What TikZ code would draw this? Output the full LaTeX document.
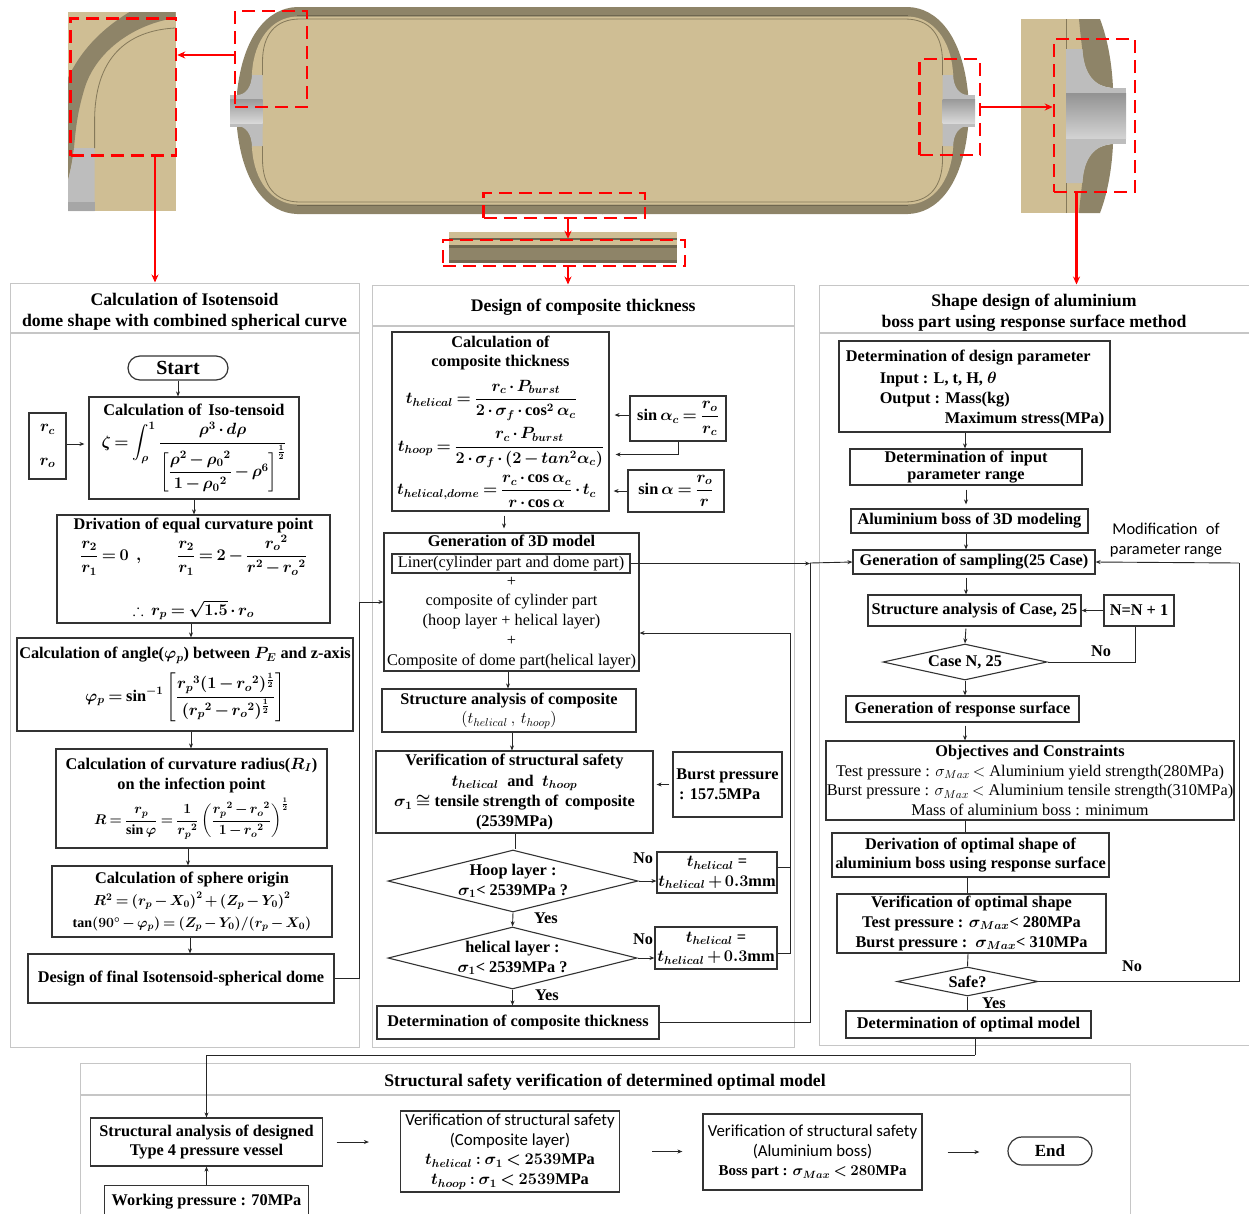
\documentclass[tikz,border=0pt]{standalone}
\usepackage{fix-cm}
\usepackage{amsmath,amssymb}
\usepackage{fontspec}
\setmainfont{Liberation Serif}
\newfontfamily\lblsans{Carlito}
\usetikzlibrary{arrows.meta,positioning,shapes.geometric}
\definecolor{cbrown}{HTML}{8E8468}
\definecolor{cdark}{HTML}{6F6750}
\definecolor{ctan}{HTML}{CFBE94}
\definecolor{cline}{HTML}{85795A}
\definecolor{cgray}{HTML}{BDBDBD}
\newcommand{\reg}[1]{{\mdseries\unboldmath #1}}
\thickmuskip=3.5mu
\medmuskip=2.5mu

\begin{document}
\begin{tikzpicture}[x=1pt,y=-1pt,>={Stealth[length=5pt,width=4pt]},
  font=\fontsize{16.3}{19.7}\selectfont\bfseries\boldmath,
  ph/.style={draw=gray!45,line width=1pt,fill=white,inner sep=0pt,align=center,font=\fontsize{17.7}{21}\selectfont\bfseries,execute at begin node=\rule{0pt}{16pt}},
  pn/.style={draw=gray!45,line width=1pt,fill=white,inner sep=0pt},
  bx/.style={draw=black!80,line width=1.2pt,fill=white,inner sep=0pt,align=center},
  dm/.style={diamond,draw=black!80,line width=1.1pt,fill=white,inner sep=0pt},
  tx/.style={inner sep=0pt,align=center},
  fl/.style={->,draw=black!85,line width=.9pt},
  ln/.style={draw=black!85,line width=.9pt},
  zb/.style={draw=red,line width=2.5pt,dash pattern=on 13pt off 7pt,inner sep=0pt},
  rd/.style={-{Stealth[length=8pt,width=7pt]},draw=red,line width=2.2pt}]
\path[use as bounding box,clip] (0,0) rectangle (1249,1213);

% vessel
\foreach \sx/\dx/\sy/\dy in {1/0/1/0,-1/1205/1/0,1/0/-1/221,-1/1205/-1/221}{
\begin{scope}[shift={(\dx,\dy)},xscale=\sx,yscale=\sy]
\fill[cbrown] (603,7) -- (297,7) .. controls (268,8) and (243,35) .. (237,93) -- (237,111) -- (603,111) -- cycle;
\fill[ctan] (603,16.5) -- (297,16.5) .. controls (272,17) and (254,40) .. (252,73) -- (252,111) -- (603,111) -- cycle;
\draw[cdark,line width=.8pt] (603,15.5) -- (297,15.5);
\draw[cline,line width=.8pt] (603,19) -- (300,19) .. controls (275,19) and (262.5,35) .. (262.5,62) -- (262.5,75);
\fill[cgray] (252,73) .. controls (252,88) and (245,95) .. (237,95) -- (237,111) -- (262.5,111) -- (262.5,75) -- (252,75) -- cycle;
\end{scope}}
\foreach \hx in {230,942.5}{
\fill[cgray] (\hx,95) rectangle (\hx+32.5,127);
\shade[top color=gray!80,bottom color=gray!30] (\hx,99) rectangle (\hx+32.5,123);
}

% left detail
\fill[ctan] (68,12) rectangle (175.5,211);
\fill[cbrown] (129.5,12) -- (175.5,12) -- (175.5,18) .. controls (135,24) and (97,50) .. (85,87) .. controls (78,110) and (76,125) .. (74,148) .. controls (72,165) and (70,172) .. (68,180) -- (68,78) .. controls (80,52) and (100,30) .. (129.5,12);
\fill[cgray] (74,148) -- (94.6,148) -- (94.6,211) -- (68,211) -- (68,180) .. controls (70,172) and (72,165) .. (74,148);
\fill[gray!70] (68,202) rectangle (94.6,211);
\draw[cline,line width=.8pt] (175.5,28) .. controls (135,30) and (95,50) .. (94.6,120) -- (94.6,148);

% right detail
\fill[ctan] (1021,19) rectangle (1100,213);
\foreach \sy/\dy in {1/0,-1/232}{
\begin{scope}[shift={(0,\dy)},yscale=\sy]
\fill[cbrown] (1079,19) -- (1100,19) .. controls (1108,40) and (1112,65) .. (1113,88) .. controls (1095,87) and (1084,75) .. (1082.4,50) .. controls (1081,40) and (1080,30) .. (1079,19);
\fill[cgray] (1066,49) -- (1082.4,49) .. controls (1084,75) and (1095,87) .. (1113,88) -- (1113,116.5) -- (1066,116.5) -- cycle;
\draw[cline,line width=.8pt] (1066,19) -- (1066,49);
\end{scope}}
\fill[cgray] (1066,88) rectangle (1126,144);
\shade[top color=gray!85,bottom color=gray!35] (1066,93) rectangle (1126,138);

% strip detail
\fill[ctan] (448.7,232) rectangle (677,247);
\fill[cdark] (448.7,238) rectangle (677,240);
\fill[cdark] (448.7,245) rectangle (677,248);
\fill[cbrown] (448.7,248) rectangle (677,263);
\fill[cdark] (448.7,260) rectangle (677,263);

% red frames
\node[zb,minimum width=105.5,minimum height=137.2] (zdome) at (123.25,87.1) {};
\node[zb,minimum width=72,minimum height=96] (zves) at (271,59) {};
\node[zb,minimum width=161.5,minimum height=25] (zwall) at (564.25,205.5) {};
\node[zb,minimum width=242,minimum height=26] (zstrip) at (564,253) {};
\node[zb,minimum width=60.5,minimum height=96] (zboss) at (949.75,107) {};
\node[zb,minimum width=81,minimum height=153] (zhub) at (1094.5,115.5) {};

% panels
\node[ph,minimum width=349,minimum height=49] (headA) at (184.5,307.5) {\rule{0pt}{21pt}Calculation of Isotensoid\\dome shape with combined spherical curve};
\node[pn,below=0pt of headA,minimum width=349,minimum height=714] (panA) {};
\node[ph,minimum width=421.5,minimum height=40] (headB) at (583.25,305) {Design of composite thickness};
\node[pn,below=0pt of headB,minimum width=421.5,minimum height=721] (panB) {};
\node[ph,minimum width=430,minimum height=47] (headC) at (1034,308.5) {\rule{0pt}{20pt}Shape design of aluminium\\boss part using response surface method};
\node[pn,below=0pt of headC,minimum width=430,minimum height=712] (panC) {};
\node[ph,minimum width=1050,minimum height=31] (headD) at (605,1078.5) {\rule{0pt}{20pt}Structural safety verification of determined optimal model};
\node[pn,below=0pt of headD,minimum width=1050,minimum height=146] (panD) {};

% red arrows
\draw[rd] (zves.west |- 0,55) -- (zdome.east |- 0,55);
\draw[rd] (zdome.south -| 155,0) -- (headA.north -| 155,0);
\draw[rd] (zwall.south -| 568,0) -- (zstrip.north -| 568,0);
\draw[rd] (zstrip.south -| 568,0) -- (headB.north -| 568,0);
\draw[rd] (zboss.east) -- (zhub.west |- zboss.east);
\draw[rd] (zhub.south -| 1076.5,0) -- (headC.north -| 1076.5,0);

% isotensoid column
\node[bx,minimum width=100,minimum height=24,rounded corners=12pt,font=\fontsize{20}{22}\selectfont\bfseries] (start) at (178,368) {Start};
\node[bx,minimum width=210,minimum height=102] (iso) at (194,448) {Calculation of\, Iso-tensoid\\[5pt]
  $\displaystyle\zeta=\int_{\rho}^{1}\frac{\rho^{3}\cdot d\rho}{\left[\dfrac{\rho^{2}-\rho_{0}{}^{2}}{1-\rho_{0}{}^{2}}-\rho^{6}\right]^{\frac{1}{2}}}$};
\node[bx,minimum width=37,minimum height=66] (rcro) at (47.5,446) {$r_c$\\[14pt]$r_o$};
\node[bx,minimum width=273,minimum height=108] (driv) at (193.5,569) {Drivation of equal curvature point\\[1pt]
  $\displaystyle\frac{r_2}{r_1}=0\;\;,\qquad\frac{r_2}{r_1}=2-\frac{r_o{}^{2}}{r^{2}-r_o{}^{2}}$\\[24pt]
  $\therefore\; r_p=\sqrt{1.5}\cdot r_o$};
\node[bx,minimum width=336,minimum height=93] (angle) at (185,684.5) {Calculation of angle($\varphi_p$) between $P_E$ and z-axis\\[8pt]
  $\displaystyle\varphi_p=\sin^{-1}\left[\frac{r_p{}^{3}(1-r_o{}^{2})^{\frac{1}{2}}}{(r_p{}^{2}-r_o{}^{2})^{\frac{1}{2}}}\right]$};
\node[bx,minimum width=271,minimum height=99] (curv) at (191.5,798.5) {Calculation of curvature radius($R_I$)\\on the infection point\\[4pt]
  {\fontsize{14}{16}\selectfont$\displaystyle R=\frac{r_p}{\sin\varphi}=\frac{1}{r_p{}^{2}}\left(\frac{r_p{}^{2}-r_o{}^{2}}{1-r_o{}^{2}}\right)^{\frac{1}{2}}$}};
\node[bx,minimum width=280,minimum height=71] (sph) at (192,901.5) {Calculation of sphere origin\\[3pt]
  {\fontsize{14.5}{16}\selectfont$R^{2}=\left(r_p-X_0\right)^{2}+\left(Z_p-Y_0\right)^{2}$}\\[2pt]
  {\fontsize{14}{16}\selectfont$\tan(90^{\circ}-\varphi_p)=(Z_p-Y_0)/(r_p-X_0)$}};
\node[bx,minimum width=306,minimum height=49] (fin) at (181,978.5) {Design of final Isotensoid-spherical dome};
\draw[fl] (start.south) -- (start.south |- iso.north);
\draw[fl,shorten >=4pt] (rcro.east |- 0,444) -- (iso.west |- 0,444);
\draw[fl] (iso.south) -- (iso.south |- driv.north);
\draw[fl] (driv.south -| 191,0) -- (angle.north -| 191,0);
\draw[fl] (angle.south -| 191,0) -- (curv.north -| 191,0);
\draw[fl] (curv.south -| 188,0) -- (sph.north -| 188,0);
\draw[fl] (sph.south -| 190,0) -- (fin.north -| 190,0);

% composite column
\node[bx,minimum width=217,minimum height=179] (calc) at (500.5,421.5) {Calculation of\\composite thickness\\[9pt]
  \hspace*{-18pt}$\displaystyle t_{helical}=\frac{r_c\cdot P_{burst}}{2\cdot\sigma_f\cdot\cos^{2}\alpha_c}$\\[6pt]
  \hspace*{1pt}$\displaystyle t_{hoop}=\frac{r_c\cdot P_{burst}}{2\cdot\sigma_f\cdot(2-tan^{2}\alpha_c)}$\\[6pt]
  \hspace*{-8pt}$\displaystyle t_{helical,dome}=\frac{r_c\cdot\cos\alpha_c}{r\cdot\cos\alpha}\cdot t_c$};
\node[bx,minimum width=96,minimum height=45] (sinc) at (678,418.5) {$\displaystyle\sin\alpha_c=\frac{r_o}{r_c}$};
\node[bx,minimum width=96,minimum height=42] (sina) at (676,491) {$\displaystyle\sin\alpha=\frac{r_o}{r}$};
\node[bx,minimum width=255,minimum height=138] (gen) at (511.5,602) {Generation of 3D model\\[19.7pt]\reg{+}\\\reg{composite of cylinder part}\\\reg{(hoop layer + helical layer)}\\\reg{+}\\\reg{Composite of dome part(helical layer)}};
\node[bx,minimum width=238,minimum height=19] (liner) at (511,563.5) {\reg{Liner(cylinder part and dome part)}};
\node[bx,minimum width=254,minimum height=43] (sacomp) at (509,710.5) {Structure analysis of composite\\\reg{$(t_{helical}\;,\,t_{hoop})$}};
\node[bx,minimum width=277,minimum height=82] (verif) at (514.5,792) {Verification of structural safety\\[1pt]$t_{helical}$\; and \;$t_{hoop}$\\[1pt]$\sigma_1\cong$ tensile strength of\, composite\\(2539MPa)};
\node[bx,minimum width=109,minimum height=65,align=left] (burst) at (727.5,784.5) {Burst pressure\\\,: 157.5MPa};
\node[dm,minimum width=250,minimum height=62,label={[tx]center:Hoop layer :\\$\sigma_1$< 2539MPa ?}] (hoopd) at (513,881) {};
\node[dm,minimum width=249,minimum height=62,label={[tx]center:helical layer :\\$\sigma_1$< 2539MPa ?}] (helid) at (512.5,958) {};
\node[bx,minimum width=120,minimum height=41] (thA) at (717,872.5) {$t_{helical}$ =\\$t_{helical}+0.3$mm};
\node[bx,minimum width=122,minimum height=42] (thB) at (716,948) {$t_{helical}$ =\\$t_{helical}+0.3$mm};
\node[bx,minimum width=282,minimum height=33] (det) at (518,1022.5) {Determination of composite thickness};
\node[tx] (noA) at (643,858) {No};
\node[tx] (yesA) at (546,918) {Yes};
\node[tx] (noB) at (643,939) {No};
\node[tx] (yesB) at (547,995) {Yes};
\coordinate (busA) at (359,602);
\coordinate (busB) at (790,633);
\coordinate (busC) at (810,563);
\draw[ln] (fin.east) -| (busA);
\draw[fl] (busA) -- (gen.west);
\draw[fl,shorten >=5pt] (sinc.west |- 0,415) -- (calc.east |- 0,415);
\draw[fl,shorten >=6pt] (sinc.south) |- (calc.east |- 0,454.5);
\draw[fl,shorten >=4pt] (sina.west) -- (calc.east |- sina.west);
\draw[fl,shorten <=4pt,shorten >=4pt] (calc.south -| 504,0) -- (gen.north -| 504,0);
\draw[fl] (gen.south -| 508,0) -- (sacomp.north -| 508,0);
\draw[fl] (sacomp.south -| 512,0) -- (verif.north -| 512,0);
\draw[fl,shorten <=3pt,shorten >=3pt] (burst.west) -- (verif.east |- burst.west);
\draw[ln] (verif.south -| 515,0) -- (hoopd.north -| 515,0);
\draw[fl] (hoopd.south) -- (helid.north);
\draw[fl] (helid.south) -- (det.north -| helid.south);
\draw[fl] (hoopd.east) -- (thA.west |- hoopd.east);
\draw[fl] (helid.east) -- (thB.west |- helid.east);
\draw[ln] (thA.east |- 0,867) -- (busB |- 0,867);
\draw[ln] (thB.east |- 0,953) -| (busB);
\draw[fl] (busB) -- (gen.east |- busB);
\draw[fl] (liner.east) -- (busC |- liner.east);
\draw[ln] (det.east) -| (busC);

% boss column
\node[bx,minimum width=271,minimum height=91,align=left] (ddp) at (974.5,386.5) {\hspace*{1pt}\rule{0pt}{15pt}Determination of design parameter\\[3pt]\hspace*{35pt}Input : L, t, H, $\theta$\\\hspace*{35pt}Output : Mass(kg)\\\hspace*{100pt}Maximum stress(MPa)};
\node[bx,minimum width=232,minimum height=36,font=\fontsize{16.3}{17.5}\selectfont\bfseries] (rng) at (966,467) {Determination of\, input\\parameter range};
\node[bx,minimum width=237,minimum height=24] (alu) at (969.5,521) {Aluminium boss of 3D modeling};
\node[bx,minimum width=242,minimum height=24] (smp) at (974,562) {Generation of sampling(25 Case)};
\node[bx,minimum width=213,minimum height=31] (csa) at (974.5,610.5) {Structure analysis of Case, 25};
\node[bx,minimum width=70,minimum height=31] (nn) at (1139,610.5) {N=N + 1};
\node[dm,minimum width=164,minimum height=36,label={[tx]center:Case N, 25}] (cased) at (965,662) {};
\node[bx,minimum width=233,minimum height=26] (rsp) at (962.5,709) {Generation of response surface};
\node[bx,minimum width=408,minimum height=79] (obj) at (1030,780.5) {Objectives and Constraints\\\reg{Test pressure : $\sigma_{Max}<$ Aluminium yield strength(280MPa)}\\\reg{Burst pressure : $\sigma_{Max}<$ Aluminium tensile strength(310MPa)}\\\reg{Mass of aluminium boss : minimum}};
\node[bx,minimum width=277,minimum height=44] (drv) at (970.5,855) {Derivation of optimal shape of\\aluminium boss using response surface};
\node[bx,minimum width=269,minimum height=59] (vsh) at (971.5,923.5) {Verification of optimal shape\\Test pressure : $\sigma_{Max}$< 280MPa\\Burst pressure :\, $\sigma_{Max}$< 310MPa};
\node[dm,minimum width=141,minimum height=29,label={[tx]center:Safe?}] (safe) at (967.5,981.5) {};
\node[bx,minimum width=245,minimum height=27] (dop) at (968.5,1024.5) {Determination of optimal model};
\node[tx,font=\fontsize{16.5}{20}\selectfont\mdseries\lblsans] (modif) at (1166,540) {Modification\; of\hspace{12pt}\\parameter range};
\node[tx] (noC) at (1101,651) {No};
\node[tx] (noD) at (1132,966) {No};
\node[tx] (yesC) at (994,1003) {Yes};
\coordinate (busD) at (1239,563);
\coordinate (busE) at (975,1055);
\draw[fl] (busC) -- (smp.west);
\draw[ln] (safe.east) -| (busD);
\draw[fl] (busD) -- (smp.east);
\draw[fl] (ddp.south -| 965,0) -- (rng.north -| 965,0);
\draw[fl,shorten <=4pt,shorten >=4pt] (rng.south -| 966,0) -- (alu.north -| 966,0);
\draw[fl] (alu.south -| 966,0) -- (smp.north -| 966,0);
\draw[fl,shorten <=3pt] (smp.south -| 966,0) -- (csa.north -| 966,0);
\draw[fl,shorten <=2pt] (csa.south -| 966,0) -- (cased.north);
\draw[fl] (nn.west) -- (csa.east);
\draw[ln] (cased.east) -| ([xshift=-4pt]nn.south);
\draw[fl] (cased.south) -- (rsp.north -| cased.south);
\draw[fl,shorten <=3pt] (rsp.south -| 965,0) -- (obj.north -| 965,0);
\draw[ln] (obj.south -| 965,0) -- (drv.north -| 965,0);
\draw[ln] (drv.south -| 967,0) -- (vsh.north -| 967,0);
\draw[ln] (vsh.south -| 968,0) -- (safe.north);
\draw[ln] (safe.south) -- (dop.north -| safe.south);

% verification row
\node[bx,minimum width=232,minimum height=48] (sa) at (206.5,1142) {Structural analysis of designed\\Type 4 pressure vessel};
\node[bx,below=18pt of sa,minimum width=203.5,minimum height=32] (wp) {Working pressure : 70MPa};
\node[bx,minimum width=219,minimum height=81] (vc) at (510,1151.5) {{\fontsize{16.8}{19}\selectfont\mdseries\lblsans Verification of structural safety}\\{\fontsize{16.8}{19}\selectfont\mdseries\lblsans (Composite layer)}\\$t_{helical}:\sigma_1<2539$MPa\\$t_{hoop}:\sigma_1<2539$MPa};
\node[bx,minimum width=219,minimum height=76] (va) at (812.5,1152) {{\fontsize{16.8}{19}\selectfont\mdseries\lblsans Verification of structural safety}\\{\fontsize{16.8}{19}\selectfont\mdseries\lblsans (Aluminium boss)}\\{\fontsize{15}{19}\selectfont Boss part : $\sigma_{Max}<280$MPa}};
\node[bx,minimum width=84,minimum height=28,rounded corners=14pt,font=\fontsize{17}{20}\selectfont\bfseries] (endn) at (1050,1151) {End};
\draw[ln] (dop.south -| busE) -- (busE);
\draw[fl] (busE) -| (sa.north);
\draw[fl] (wp.north) -- (sa.south);
\draw[fl,shorten <=13.5pt,shorten >=31pt] (sa.east) -- (vc.west |- sa.east);
\draw[fl,shorten <=32pt,shorten >=20pt] (vc.east) -- (va.west |- vc.east);
\draw[fl,shorten <=25pt,shorten >=28pt] (va.east) -- (endn.west |- va.east);
\end{tikzpicture}
\end{document}
